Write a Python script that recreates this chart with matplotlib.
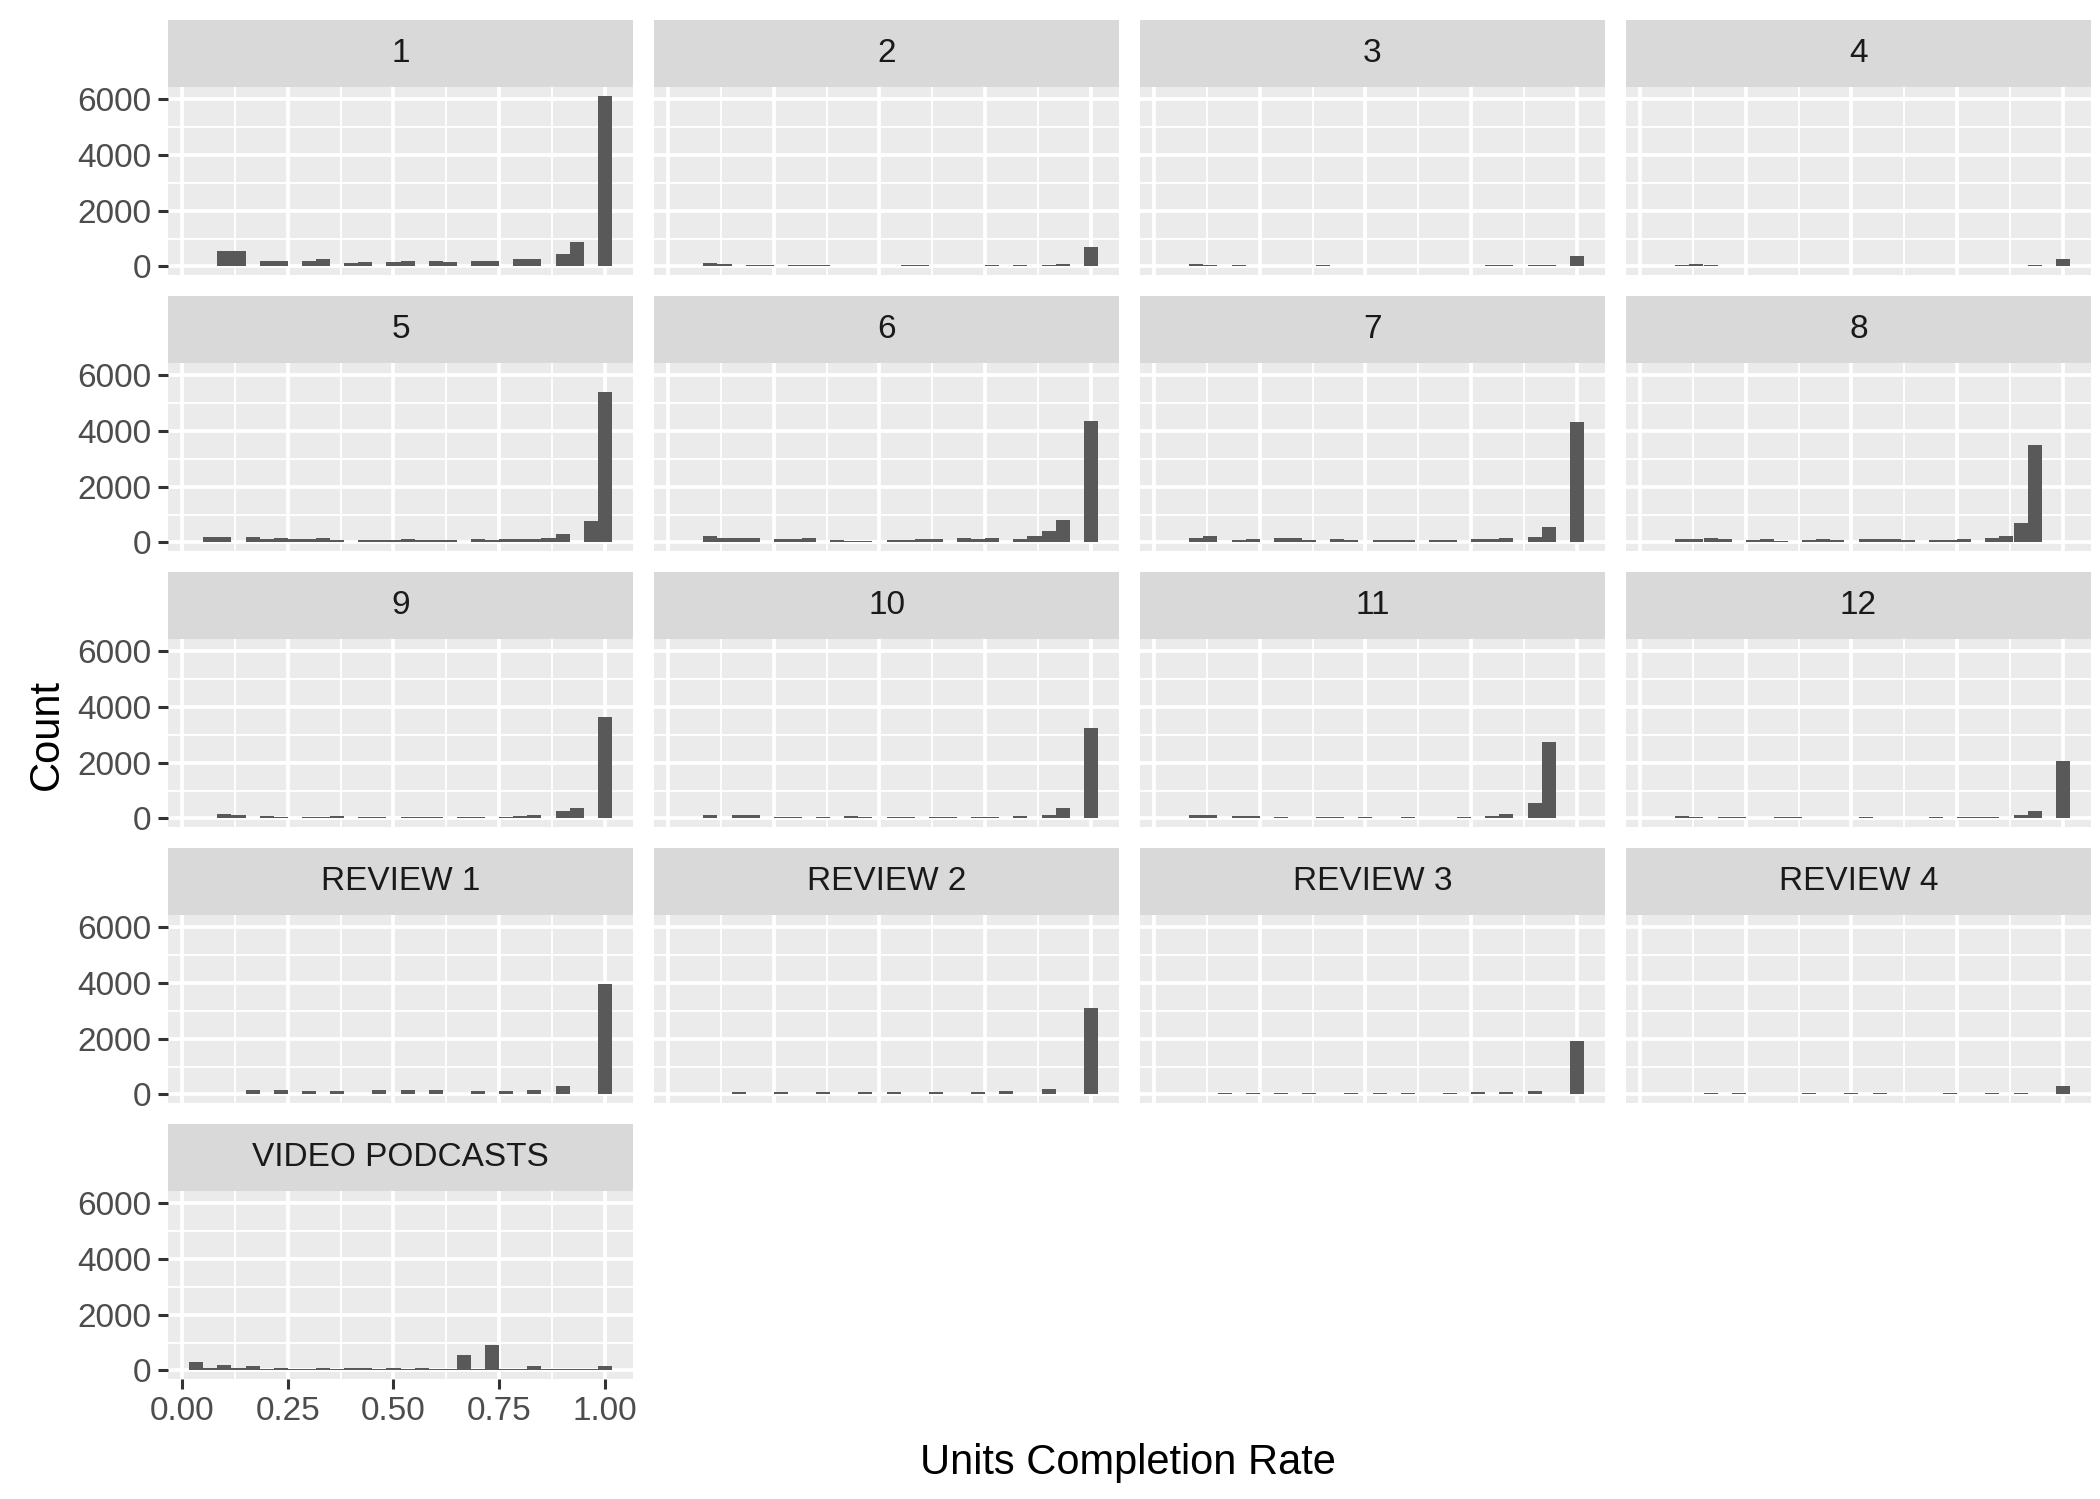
import matplotlib
matplotlib.use('Agg')
import matplotlib.pyplot as plt
import numpy as np

plt.rcParams['font.family'] = ['Liberation Sans', 'DejaVu Sans']

# facet labels, in facet_wrap order (4 columns)
panels = ['1', '2', '3', '4', '5', '6', '7', '8', '9', '10', '11', '12',
          'REVIEW 1', 'REVIEW 2', 'REVIEW 3', 'REVIEW 4', 'VIDEO PODCASTS']

# histogram counts, 30 bins centred on k/30 (k = 1..30)
counts_1 = [0, 0, 560, 560, 0, 200, 200, 0, 200, 275, 0, 130, 165, 0, 165, 200, 0, 200, 165, 0, 200, 200, 0, 275, 275, 0, 430, 880, 0, 6120]
counts_2 = [0, 0, 130, 95, 0, 60, 60, 0, 55, 55, 55, 0, 25, 25, 0, 25, 60, 60, 0, 25, 25, 0, 60, 25, 60, 0, 60, 95, 0, 700]
counts_3 = [0, 0, 95, 60, 0, 60, 25, 0, 25, 25, 0, 60, 25, 0, 25, 25, 0, 25, 25, 0, 25, 25, 0, 60, 60, 0, 60, 60, 0, 380]
counts_4 = [0, 0, 60, 95, 60, 0, 25, 25, 25, 0, 25, 25, 0, 25, 25, 25, 0, 25, 25, 25, 0, 25, 25, 25, 0, 25, 25, 60, 0, 275]
counts_5 = [0, 180, 180, 0, 180, 107, 143, 107, 107, 143, 71, 0, 71, 71, 71, 107, 71, 71, 71, 0, 107, 71, 107, 107, 107, 143, 286, 0, 786, 5390]
counts_6 = [0, 0, 214, 143, 143, 143, 0, 107, 107, 143, 0, 71, 48, 48, 0, 71, 71, 107, 107, 0, 143, 107, 143, 0, 107, 214, 393, 821, 0, 4357]
counts_7 = [0, 0, 143, 214, 0, 71, 107, 0, 143, 143, 71, 0, 107, 71, 0, 71, 71, 71, 0, 71, 71, 0, 107, 107, 143, 0, 179, 536, 0, 4321]
counts_8 = [0, 0, 107, 107, 143, 107, 0, 71, 107, 36, 0, 71, 107, 71, 0, 107, 107, 107, 71, 0, 71, 71, 107, 0, 143, 214, 714, 3500, 0, 0]
counts_9 = [0, 0, 168, 132, 0, 96, 60, 0, 60, 60, 96, 0, 60, 60, 0, 60, 60, 60, 0, 60, 60, 0, 60, 96, 132, 0, 275, 383, 0, 3617]
counts_10 = [0, 0, 132, 0, 132, 132, 0, 60, 60, 0, 60, 0, 96, 60, 0, 60, 60, 0, 60, 60, 0, 60, 60, 0, 96, 0, 132, 383, 0, 3222]
counts_11 = [0, 0, 132, 132, 0, 96, 96, 0, 60, 24, 0, 60, 60, 0, 60, 24, 0, 60, 24, 0, 24, 60, 0, 96, 168, 0, 563, 2754, 0, 0]
counts_12 = [0, 0, 96, 60, 0, 60, 60, 0, 24, 60, 60, 0, 24, 24, 0, 60, 24, 24, 0, 24, 60, 0, 60, 60, 60, 0, 132, 251, 0, 2072]
counts_review_1 = [0, 0, 0, 0, 143, 0, 143, 0, 107, 0, 107, 0, 0, 143, 0, 143, 0, 143, 0, 0, 107, 0, 107, 0, 143, 0, 286, 0, 0, 3964]
counts_review_2 = [0, 0, 0, 0, 71, 0, 0, 71, 0, 0, 71, 0, 0, 71, 0, 71, 0, 0, 71, 0, 0, 71, 0, 107, 0, 0, 179, 0, 0, 3107]
counts_review_3 = [0, 0, 0, 0, 36, 0, 36, 0, 36, 0, 36, 0, 0, 36, 0, 36, 0, 36, 0, 0, 36, 0, 71, 0, 71, 0, 107, 0, 0, 1929]
counts_review_4 = [0, 0, 0, 0, 36, 0, 36, 0, 0, 0, 0, 36, 0, 0, 36, 0, 36, 0, 0, 0, 0, 36, 0, 0, 36, 0, 36, 0, 0, 286]
counts_video = [310, 90, 200, 90, 165, 36, 95, 36, 36, 71, 36, 71, 71, 36, 71, 36, 71, 36, 36, 571, 36, 929, 36, 36, 143, 36, 36, 36, 36, 143]

all_counts = [counts_1, counts_2, counts_3, counts_4, counts_5, counts_6, counts_7,
              counts_8, counts_9, counts_10, counts_11, counts_12, counts_review_1,
              counts_review_2, counts_review_3, counts_review_4, counts_video]

x_ticks = [0.0, 0.25, 0.5, 0.75, 1.0]
x_ticklabels = ['0.00', '0.25', '0.50', '0.75', '1.00']
y_ticks = [0, 2000, 4000, 6000]
y_ticklabels = ['0', '2000', '4000', '6000']

nbins = 30
bw = 1.0 / nbins
centers = np.arange(1, nbins + 1) * bw
ymax = max(max(c) for c in all_counts)

W, H = 2100, 1499
fig = plt.figure(figsize=(21, 14.99), dpi=100)

left0, top0 = 168, 20
pw, ph, sh = 465, 188, 67
gap = 21

for i, (name, cnt) in enumerate(zip(panels, all_counts)):
    r, c = divmod(i, 4)
    x0 = left0 + c * (pw + gap)
    stop = top0 + r * (sh + ph + gap)
    ptop = stop + sh

    # strip
    sax = fig.add_axes([x0 / W, 1 - stop / H - sh / H, pw / W, sh / H])
    sax.set_facecolor('#D9D9D9')
    sax.set_xticks([]); sax.set_yticks([])
    for s in sax.spines.values():
        s.set_visible(False)
    sax.text(0.5, 0.5, name, ha='center', va='center', fontsize=24, color='#1A1A1A')

    ax = fig.add_axes([x0 / W, 1 - (ptop + ph) / H, pw / W, ph / H])
    ax.set_facecolor('#EBEBEB')
    ax.bar(centers, cnt, width=bw, color='#595959', linewidth=0, zorder=3)
    ax.set_xlim(1 / 60 - 0.05, 1 + 1 / 60 + 0.05)
    ax.set_ylim(-0.05 * ymax, 1.05 * ymax)
    ax.set_xticks(x_ticks)
    ax.set_xticks([0.125, 0.375, 0.625, 0.875], minor=True)
    ax.set_yticks(y_ticks)
    ax.set_yticks([1000, 3000, 5000], minor=True)
    ax.grid(which='major', color='white', linewidth=2.7, zorder=1)
    ax.grid(which='minor', color='white', linewidth=1.35, zorder=1)
    ax.set_axisbelow(True)
    for s in ax.spines.values():
        s.set_visible(False)
    ax.tick_params(which='minor', length=0)
    ax.tick_params(which='major', length=7, width=2.2, color='#333333',
                   labelsize=24, labelcolor='#4D4D4D', pad=5)
    ax.set_xticklabels(x_ticklabels)
    ax.set_yticklabels(y_ticklabels)
    if c != 0:
        ax.tick_params(axis='y', left=False, labelleft=False)
    if name != 'VIDEO PODCASTS':
        ax.tick_params(axis='x', bottom=False, labelbottom=False)

fig.text(1128 / W, 1 - 1463 / H, 'Units Completion Rate', ha='center', va='center',
         fontsize=30, color='black')
fig.text(47 / W, 1 - 735 / H, 'Count', ha='center', va='center', rotation=90,
         fontsize=30, color='black')

fig.savefig('out.png', dpi=100, facecolor='white')
